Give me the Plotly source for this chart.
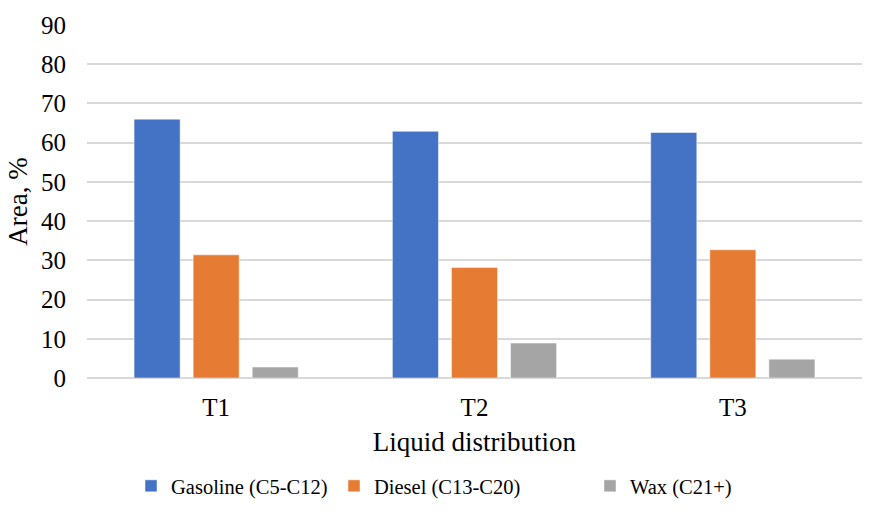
import plotly.graph_objects as go

categories = ["T1", "T2", "T3"]
gasoline = [66.0, 62.9, 62.6]
diesel = [31.4, 28.2, 32.7]
wax = [2.8, 8.9, 4.8]

series = [
    ("Gasoline (C5-C12)", gasoline, "#4472C4", "legend", 131),
    ("Diesel (C13-C20)", diesel, "#E67C34", "legend2", 334),
    ("Wax (C21+)", wax, "#A5A5A5", "legend3", 590),
]

FF = "Liberation Serif"
W, H = 873, 523

fig = go.Figure()
for name, vals, color, leg, _ in series:
    fig.add_trace(go.Bar(
        x=categories, y=vals, name=name, legend=leg,
        marker=dict(color=color, line=dict(color="white", width=0.5)),
    ))

legend_common = dict(orientation="h", xref="container", yref="container",
                     xanchor="left", y=1 - 486 / H, yanchor="middle",
                     font=dict(family=FF, size=20.5, color="#000000"),
                     itemwidth=30, bgcolor="rgba(0,0,0,0)")
legends = {}
for name, vals, color, leg, px in series:
    legends[leg] = dict(legend_common, x=px / W)

fig.update_layout(
    width=W, height=H,
    margin=dict(l=87, r=11, t=25, b=145),
    paper_bgcolor="white", plot_bgcolor="white",
    barmode="group", bargap=0.314, bargroupgap=0.22,
    font=dict(family=FF, size=25, color="#000000"),
    showlegend=True,
    xaxis=dict(
        showline=False, showgrid=False, zeroline=False,
        ticks="outside", ticklen=7, tickcolor="rgba(0,0,0,0)",
        tickfont=dict(family=FF, size=25),
        title=dict(text="Liquid distribution", standoff=12, font=dict(family=FF, size=27)),
        automargin=False,
    ),
    yaxis=dict(
        range=[0, 90], dtick=10, tick0=0,
        showgrid=True, gridcolor="#D9D9D9", gridwidth=1.5,
        zeroline=True, zerolinecolor="#D9D9D9", zerolinewidth=1.5,
        showline=False,
        ticks="outside", ticklen=15, tickcolor="rgba(0,0,0,0)",
        tickfont=dict(family=FF, size=25),
        title=dict(text="Area, %", standoff=5, font=dict(family=FF, size=27)),
        automargin=False,
    ),
    **legends,
)

fig.write_html("out.html")
